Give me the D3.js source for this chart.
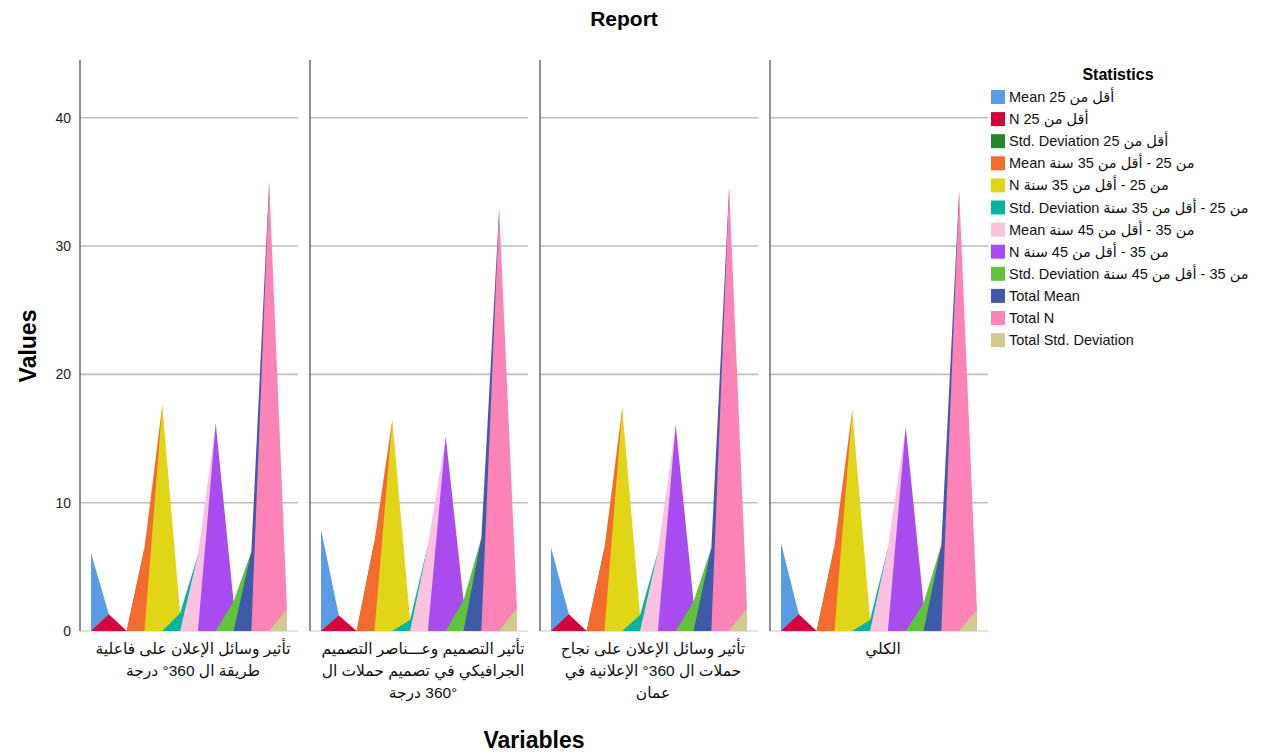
<!DOCTYPE html>
<html>
<head>
<meta charset="utf-8">
<script src="https://cdn.jsdelivr.net/npm/d3@7/dist/d3.min.js"></script>
<style>
body { margin: 0; background: #fff; }
text { font-family: "Liberation Sans", Arial, "DejaVu Sans", sans-serif; }
</style>
</head>
<body>
<svg id="chart" width="1264" height="756"></svg>
<script>
// panels (variables) and their wrapped labels
var variables = ["effectiveness", "design", "success", "total"];
var variableLabels = [
	["تأثير وسائل الإعلان على فاعلية", "طريقة ال 360° درجة"],
	["تأثير التصميم وعـــناصر التصميم", "الجرافيكي في تصميم حملات ال", "360° درجة"],
	["تأثير وسائل الإعلان على نجاح", "حملات ال 360° الإعلانية في", "عمان"],
	["الكلي"]
];

// statistics series (legend order)
var statistics = [
	"Mean أقل من 25", "N أقل من 25", "Std. Deviation أقل من 25",
	"Mean من 25 - أقل من 35 سنة", "N من 25 - أقل من 35 سنة", "Std. Deviation من 25 - أقل من 35 سنة",
	"Mean من 35 - أقل من 45 سنة", "N من 35 - أقل من 45 سنة", "Std. Deviation من 35 - أقل من 45 سنة",
	"Total Mean", "Total N", "Total Std. Deviation"
];
var colors = ["#5a9be5", "#d4033b", "#24852a", "#f46b2e", "#e1d517", "#03b4a0",
	"#fbc2df", "#a94cef", "#61c23b", "#3e5ba9", "#fb83b5", "#d2c98e"];

// values per panel, one per statistic
var valuesEffectiveness = [6.07, 1.3, 0, 6.46, 17.6, 1.38, 5.94, 16.2, 2.3, 6.2, 35.0, 1.72];
var valuesDesign        = [7.89, 1.2, 0, 7.0, 16.45, 0.86, 6.7, 15.15, 2.4, 7.24, 32.9, 1.82];
var valuesSuccess       = [6.5, 1.3, 0, 6.46, 17.37, 1.25, 6.2, 16.06, 2.3, 6.46, 34.6, 1.82];
var valuesTotal         = [6.85, 1.3, 0, 6.6, 17.2, 0.86, 6.46, 15.9, 2.16, 6.7, 34.3, 1.64];
var panelValues = [valuesEffectiveness, valuesDesign, valuesSuccess, valuesTotal];

var yTicks = [0, 10, 20, 30, 40];

var svg = d3.select("#chart");

var y = d3.scaleLinear().domain([0, 44.5]).range([631, 60]);
var panel = d3.scaleBand().domain(variables).range([80, 988]).paddingInner(0.052).paddingOuter(0);
var x = d3.scalePoint().domain(d3.range(statistics.length)).range([0, panel.bandwidth()]).padding(0.62);

var line = d3.line()
	.x(function(d) { return x(d[0]); })
	.y(function(d) { return y(d[1]); });

// polygon of statistic i: rises from the previous point, runs to the next one
function shape(vals, i) {
	var lo = Math.max(i - 1, 0), hi = Math.min(i + 1, vals.length - 1);
	var pts = [[lo, 0]];
	for (var j = i; j <= hi; j++) pts.push([j, vals[j]]);
	pts.push([hi, 0]);
	return pts;
}

variables.forEach(function(v, p) {
	var g = svg.append("g").attr("transform", "translate(" + panel(v) + ",0)");
	var w = panel.bandwidth();

	g.selectAll("line.grid")
		.data(yTicks.slice(1))
		.enter().append("line")
		.attr("class", "grid")
		.attr("x1", 0).attr("x2", w)
		.attr("y1", function(d) { return y(d); })
		.attr("y2", function(d) { return y(d); })
		.attr("stroke", "#bdbdbd")
		.attr("stroke-width", 1.6);

	g.append("line")
		.attr("x1", 0).attr("x2", w)
		.attr("y1", y(0)).attr("y2", y(0))
		.attr("stroke", "#e2e2e2")
		.attr("stroke-width", 2);

	var vals = panelValues[p];
	g.selectAll("path.area")
		.data(d3.range(statistics.length))
		.enter().append("path")
		.attr("class", "area")
		.attr("fill", function(i) { return colors[i]; })
		.attr("d", function(i) { return line(shape(vals, i)) + "Z"; });

	g.append("line")
		.attr("x1", 0).attr("x2", 0)
		.attr("y1", y.range()[1]).attr("y2", y(0))
		.attr("stroke", "#555")
		.attr("stroke-width", 1.3);

	g.selectAll("text.lab")
		.data(variableLabels[p])
		.enter().append("text")
		.attr("class", "lab")
		.attr("direction", "rtl")
		.attr("text-anchor", "middle")
		.attr("x", w / 2 + 4)
		.attr("y", function(d, k) { return 654 + k * 22; })
		.attr("font-size", 15.5)
		.attr("fill", "#111")
		.text(function(d) { return d; });
});

// y axis labels
var yAxis = svg.append("g")
	.attr("transform", "translate(80,0)")
	.call(d3.axisLeft(y).tickValues(yTicks).tickSize(0).tickPadding(9));
yAxis.select(".domain").remove();
yAxis.selectAll("text")
	.attr("font-size", 14)
	.attr("fill", "#222")
	.style("font-family", "\"Liberation Sans\", Arial, sans-serif");

// titles
svg.append("text")
	.attr("x", 624).attr("y", 26)
	.attr("text-anchor", "middle")
	.attr("font-size", 21).attr("font-weight", "bold")
	.text("Report");

svg.append("text")
	.attr("transform", "translate(36,346) rotate(-90)")
	.attr("text-anchor", "middle")
	.attr("font-size", 23).attr("font-weight", "bold")
	.text("Values");

svg.append("text")
	.attr("x", 534).attr("y", 748)
	.attr("text-anchor", "middle")
	.attr("font-size", 23).attr("font-weight", "bold")
	.text("Variables");

// legend
var legend = svg.append("g");
legend.append("text")
	.attr("x", 1118).attr("y", 80)
	.attr("text-anchor", "middle")
	.attr("font-size", 16).attr("font-weight", "bold")
	.text("Statistics");

var item = legend.selectAll("g.item")
	.data(statistics)
	.enter().append("g")
	.attr("class", "item")
	.attr("transform", function(d, i) { return "translate(991," + (90 + i * 22.1) + ")"; });
item.append("rect")
	.attr("width", 14).attr("height", 14)
	.attr("fill", function(d, i) { return colors[i]; });
item.append("text")
	.attr("x", 18).attr("y", 12)
	.attr("font-size", 14.5)
	.attr("fill", "#111")
	.text(function(d) { return d; });
</script>
</body>
</html>
